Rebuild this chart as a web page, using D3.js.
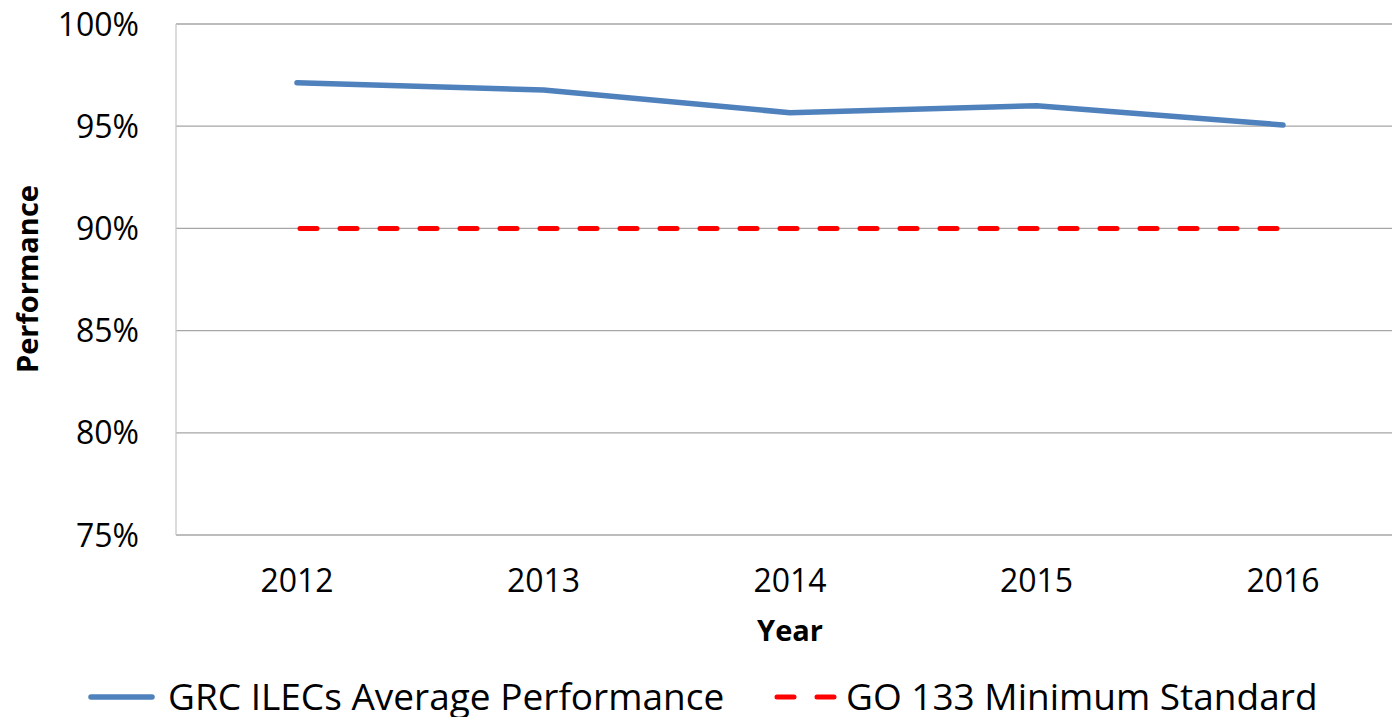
<!DOCTYPE html>
<html><head><meta charset="utf-8">
<script src="https://cdn.jsdelivr.net/npm/d3@7"></script>
<style>body{margin:0;background:#fff;} svg{display:block;} text{font-family:"Open Sans","Liberation Sans",sans-serif;fill:#000;}</style>
</head><body>
<svg id="c" width="1392" height="717"></svg>
<script>
const years = ["2012","2013","2014","2015","2016"];
const avgPerformance = [97.13, 96.77, 95.66, 96.0, 95.06];
const minStandard = [90, 90, 90, 90, 90];
const yTicks = [75, 80, 85, 90, 95, 100];
const seriesNames = ["GRC ILECs Average Performance", "GO 133 Minimum Standard"];

const svg = d3.select("#c");
const plotL = 176, plotR = 1392, plotT = 24, plotB = 535;
const x = d3.scalePoint().domain(years).range([297, 1283]);
const y = d3.scaleLinear().domain([75, 100]).range([plotB, plotT]);

// gridlines
svg.append("g").selectAll("line").data(yTicks).join("line")
  .attr("x1", plotL).attr("x2", plotR)
  .attr("y1", d => y(d)).attr("y2", d => y(d))
  .attr("stroke", "#a6a6a6").attr("stroke-width", 1.3);
// left axis line
svg.append("line").attr("x1", plotL).attr("x2", plotL).attr("y1", plotT).attr("y2", plotB)
  .attr("stroke", "#c8c8c8").attr("stroke-width", 1.3);

// y labels
svg.append("g").selectAll("text").data(yTicks).join("text")
  .attr("x", 139).attr("y", d => y(d)).attr("dy", "0.36em")
  .attr("text-anchor", "end").style("font-size", "32px")
  .text(d => d + "%");
// x labels
svg.append("g").selectAll("text").data(years).join("text")
  .attr("x", d => x(d)).attr("y", 580).attr("dy", "0.36em")
  .attr("text-anchor", "middle").style("font-size", "32px")
  .text(d => d);

// axis titles
svg.append("text").attr("transform", "translate(38,279) rotate(-90)")
  .attr("text-anchor", "middle").style("font-size", "29px").style("font-weight", "bold")
  .text("Performance");
svg.append("text").attr("x", 790).attr("y", 641)
  .attr("text-anchor", "middle").style("font-size", "29px").style("font-weight", "bold")
  .text("Year");

const line = d3.line().x((d, i) => x(years[i])).y(d => y(d));
svg.append("path").datum(avgPerformance).attr("d", line)
  .attr("fill", "none").attr("stroke", "#4f81bd").attr("stroke-width", 5.5)
  .attr("stroke-linecap", "round").attr("stroke-linejoin", "round");
svg.append("path").datum(minStandard).attr("d", line)
  .attr("fill", "none").attr("stroke", "#ff0000").attr("stroke-width", 5)
  .attr("stroke-linecap", "round").attr("stroke-dasharray", "17,23")
  .attr("stroke-dashoffset", -3);

// legend
const lg = svg.append("g");
lg.append("line").attr("x1", 91).attr("x2", 152).attr("y1", 697).attr("y2", 697)
  .attr("stroke", "#4f81bd").attr("stroke-width", 5.5).attr("stroke-linecap", "round");
lg.append("text").attr("x", 168).attr("y", 697).attr("dy", "0.36em")
  .style("font-size", "37px").text(seriesNames[0]);
lg.append("line").attr("x1", 777).attr("x2", 836).attr("y1", 697).attr("y2", 697)
  .attr("stroke", "#ff0000").attr("stroke-width", 5).attr("stroke-linecap", "round")
  .attr("stroke-dasharray", "17,23");
lg.append("text").attr("x", 846).attr("y", 697).attr("dy", "0.36em")
  .style("font-size", "37px").text(seriesNames[1]);
</script>
</body></html>
